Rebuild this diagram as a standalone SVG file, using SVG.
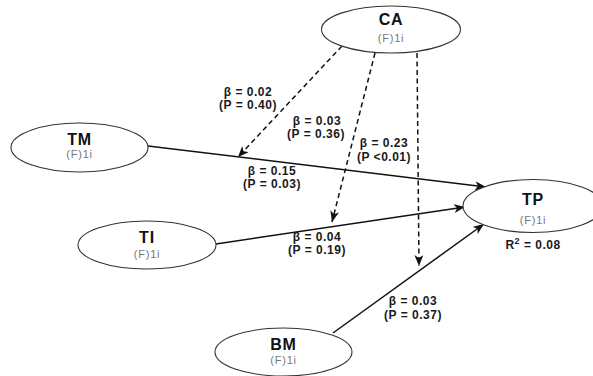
<svg xmlns="http://www.w3.org/2000/svg" width="593" height="376" viewBox="0 0 593 376">
<style>
  .node ellipse { fill: #ffffff; stroke: #333333; stroke-width: 1.1; }
  .name { font-family: "Liberation Sans", Arial, sans-serif; font-weight: bold; font-size: 16px; letter-spacing: 0.8px; fill: #111111; text-anchor: middle; }
  .sub { font-family: "Liberation Sans", Arial, sans-serif; font-size: 11px; letter-spacing: 0.8px; fill: #777777; text-anchor: middle; }
  .lbl { font-family: "Liberation Sans", Arial, sans-serif; font-weight: bold; font-size: 12px; letter-spacing: 0.5px; fill: #1a1a1a; text-anchor: middle; }
  .solid { stroke: #111111; stroke-width: 1.5; fill: none; marker-end: url(#arrow); }
  .dash { stroke: #111111; stroke-width: 1.5; fill: none; stroke-dasharray: 5 3.5; marker-end: url(#arrow); }
</style>
<defs>
  <marker id="arrow" markerUnits="userSpaceOnUse" markerWidth="12" markerHeight="10" refX="11" refY="4.5" orient="auto">
    <path d="M0,0 L11,4.5 L0,9 L3,4.5 z" fill="#111111"/>
  </marker>
</defs>
<rect width="593" height="376" fill="#ffffff"/>
<g id="connectors">
  <line class="solid" x1="148" y1="146" x2="486" y2="187"/>
  <line class="solid" x1="216" y1="244" x2="465" y2="207"/>
  <line class="solid" x1="333" y1="333" x2="484" y2="224"/>
  <line class="dash" x1="342" y1="46" x2="238" y2="157"/>
  <line class="dash" x1="375" y1="53" x2="332" y2="222"/>
  <line class="dash" x1="417" y1="53" x2="419" y2="266"/>
</g>
<g id="labels">
  <text class="lbl" x="248" y="96">β = 0.02</text>
  <text class="lbl" x="248" y="109">(P = 0.40)</text>
  <text class="lbl" x="317" y="125">β = 0.03</text>
  <text class="lbl" x="316" y="138">(P = 0.36)</text>
  <text class="lbl" x="384" y="147">β = 0.23</text>
  <text class="lbl" x="384" y="161">(P &lt;0.01)</text>
  <text class="lbl" x="272" y="175">β = 0.15</text>
  <text class="lbl" x="272" y="188">(P = 0.03)</text>
  <text class="lbl" x="317" y="241">β = 0.04</text>
  <text class="lbl" x="317" y="254">(P = 0.19)</text>
  <text class="lbl" x="413" y="305">β = 0.03</text>
  <text class="lbl" x="413" y="319">(P = 0.37)</text>
  <text class="lbl" x="533" y="249">R<tspan font-size="9" dy="-5">2</tspan><tspan dy="5"> = 0.08</tspan></text>
</g>
<g id="CA" class="node">
  <ellipse cx="391" cy="29.5" rx="69.5" ry="23.5"/>
  <text class="name" x="391" y="25">CA</text>
  <text class="sub" x="391" y="42">(F)1i</text>
</g>
<g id="TM" class="node">
  <ellipse cx="79.5" cy="147.5" rx="68.5" ry="24.5"/>
  <text class="name" x="79.5" y="145">TM</text>
  <text class="sub" x="79.5" y="158">(F)1i</text>
</g>
<g id="TI" class="node">
  <ellipse cx="147" cy="245" rx="69" ry="24"/>
  <text class="name" x="147" y="243">TI</text>
  <text class="sub" x="147" y="258">(F)1i</text>
</g>
<g id="TP" class="node">
  <ellipse cx="533" cy="206" rx="70" ry="26.5"/>
  <text class="name" x="533" y="205">TP</text>
  <text class="sub" x="533" y="224">(F)1i</text>
</g>
<g id="BM" class="node">
  <ellipse cx="283.5" cy="352" rx="68.5" ry="24"/>
  <text class="name" x="283.5" y="350">BM</text>
  <text class="sub" x="283.5" y="364">(F)1i</text>
</g>
</svg>
